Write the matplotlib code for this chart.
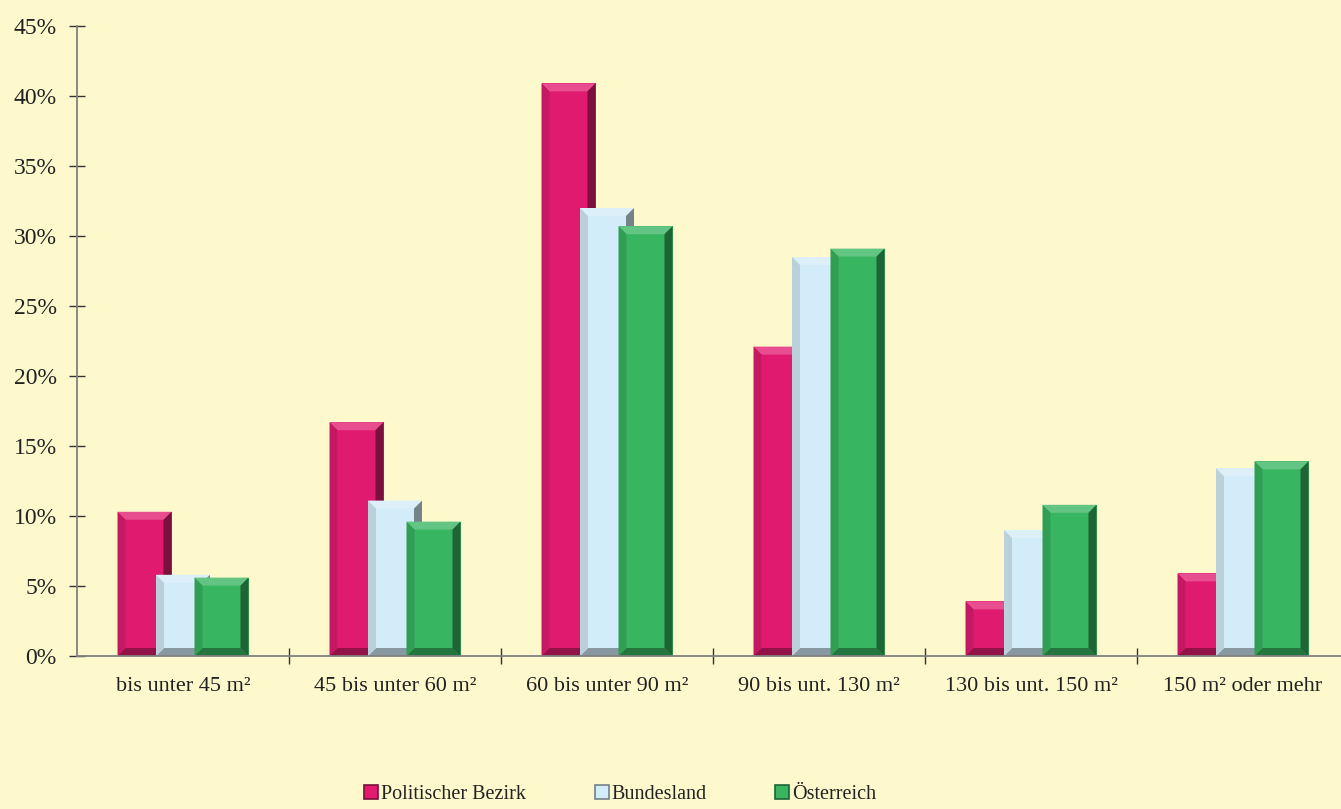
import matplotlib
matplotlib.use("Agg")
import matplotlib.pyplot as plt
from matplotlib.patches import Polygon, Rectangle
import matplotlib.colors as mcolors
import numpy as np

categories = ["bis unter 45 m²", "45 bis unter 60 m²", "60 bis unter 90 m²",
              "90 bis unt. 130 m²", "130 bis unt. 150 m²", "150 m² oder mehr"]
series_names = ["Politischer Bezirk", "Bundesland", "Österreich"]
bezirk = [10.3, 16.7, 40.9, 22.1, 3.9, 5.9]
bundesland = [5.8, 11.1, 32.0, 28.5, 9.0, 13.4]
oesterreich = [5.6, 9.6, 30.7, 29.1, 10.8, 13.9]
colors = ["#E01B6F", "#D3ECF9", "#37B560"]
yticks = [0, 5, 10, 15, 20, 25, 30, 35, 40, 45]

BG = "#FEF8CD"
plt.rcParams["font.family"] = ["Liberation Serif", "DejaVu Serif"]

W, H = 1341, 809
fig = plt.figure(figsize=(W / 100, H / 100), dpi=100, facecolor=BG)
ax_left, ax_right, ax_top, ax_bot = 77, 1349, 26, 656
ax = fig.add_axes([ax_left / W, (H - ax_bot) / H, (ax_right - ax_left) / W, (ax_bot - ax_top) / H])
ax.set_facecolor(BG)
ax.set_xlim(-0.5, len(categories) - 0.5)
ax.set_ylim(0, 45)

px_x = (len(categories)) / (ax_right - ax_left)   # data units per pixel in x
px_y = 45 / (ax_bot - ax_top)                       # data units per pixel in y

step = 38.5 * px_x
width = 54 * px_x
bev = 8

def shade(c, f):
    r, g, b = mcolors.to_rgb(c)
    if f >= 0:
        return (r + (1 - r) * f, g + (1 - g) * f, b + (1 - b) * f)
    f = -f
    return (r * (1 - f), g * (1 - f), b * (1 - f))

def bevel_bar(x0, h, w, color, z):
    bx = bev * px_x
    by = min(bev * px_y, h / 2)
    x1 = x0 + w
    ax.add_patch(Rectangle((x0, 0), w, h, facecolor=color, edgecolor="none", zorder=z))
    ax.add_patch(Polygon([(x0, h), (x1, h), (x1 - bx, h - by), (x0 + bx, h - by)],
                         closed=True, facecolor=shade(color, 0.22), edgecolor="none", zorder=z + 0.1))
    ax.add_patch(Polygon([(x0, 0), (x1, 0), (x1 - bx, by), (x0 + bx, by)],
                         closed=True, facecolor=shade(color, -0.35), edgecolor="none", zorder=z + 0.1))
    ax.add_patch(Polygon([(x1, 0), (x1, h), (x1 - bx, h - by), (x1 - bx, by)],
                         closed=True, facecolor=shade(color, -0.45), edgecolor="none", zorder=z + 0.1))
    ax.add_patch(Polygon([(x0, 0), (x0, h), (x0 + bx, h - by), (x0 + bx, by)],
                         closed=True, facecolor=shade(color, -0.12), edgecolor="none", zorder=z + 0.1))

all_series = [bezirk, bundesland, oesterreich]
xs = np.arange(len(categories))
for si, vals in enumerate(all_series):
    off = (si - 1) * step
    for xi, v in zip(xs, vals):
        bevel_bar(xi + off - width / 2, v, width, colors[si], 2 + si)

for s in ["top", "right"]:
    ax.spines[s].set_visible(False)
for s in ["left", "bottom"]:
    ax.spines[s].set_color("#808080")
    ax.spines[s].set_linewidth(1.3)
    ax.spines[s].set_zorder(10)

ax.set_yticks(yticks)
ax.set_yticklabels([f"{t}%" for t in yticks])
ax.set_xticks(np.arange(0.5, len(categories) - 0.5, 1.0))
ax.set_xticklabels([])
ax.set_xticks(xs, minor=True)
ax.set_xticklabels(categories, minor=True)
ax.tick_params(axis="y", direction="inout", length=11, width=1, color="#333333",
               labelsize=17, labelcolor="#222222", pad=9)
ax.tick_params(axis="x", which="major", direction="inout", length=11, width=1, color="#333333")
ax.tick_params(axis="x", which="minor", length=0, labelsize=16, labelcolor="#222222", pad=15)

handles = [Rectangle((0, 0), 1, 1, facecolor=c, edgecolor=shade(c, -0.45), linewidth=1.2) for c in colors]
leg = fig.legend(handles, series_names, loc="lower left", bbox_to_anchor=(346 / W, -0.016),
                 ncol=3, frameon=False, fontsize=14.5, handlelength=0.7, handleheight=0.7,
                 handletextpad=0.15, columnspacing=3.4, labelcolor="#222222")

fig.savefig("out.png", dpi=100, facecolor=BG)
